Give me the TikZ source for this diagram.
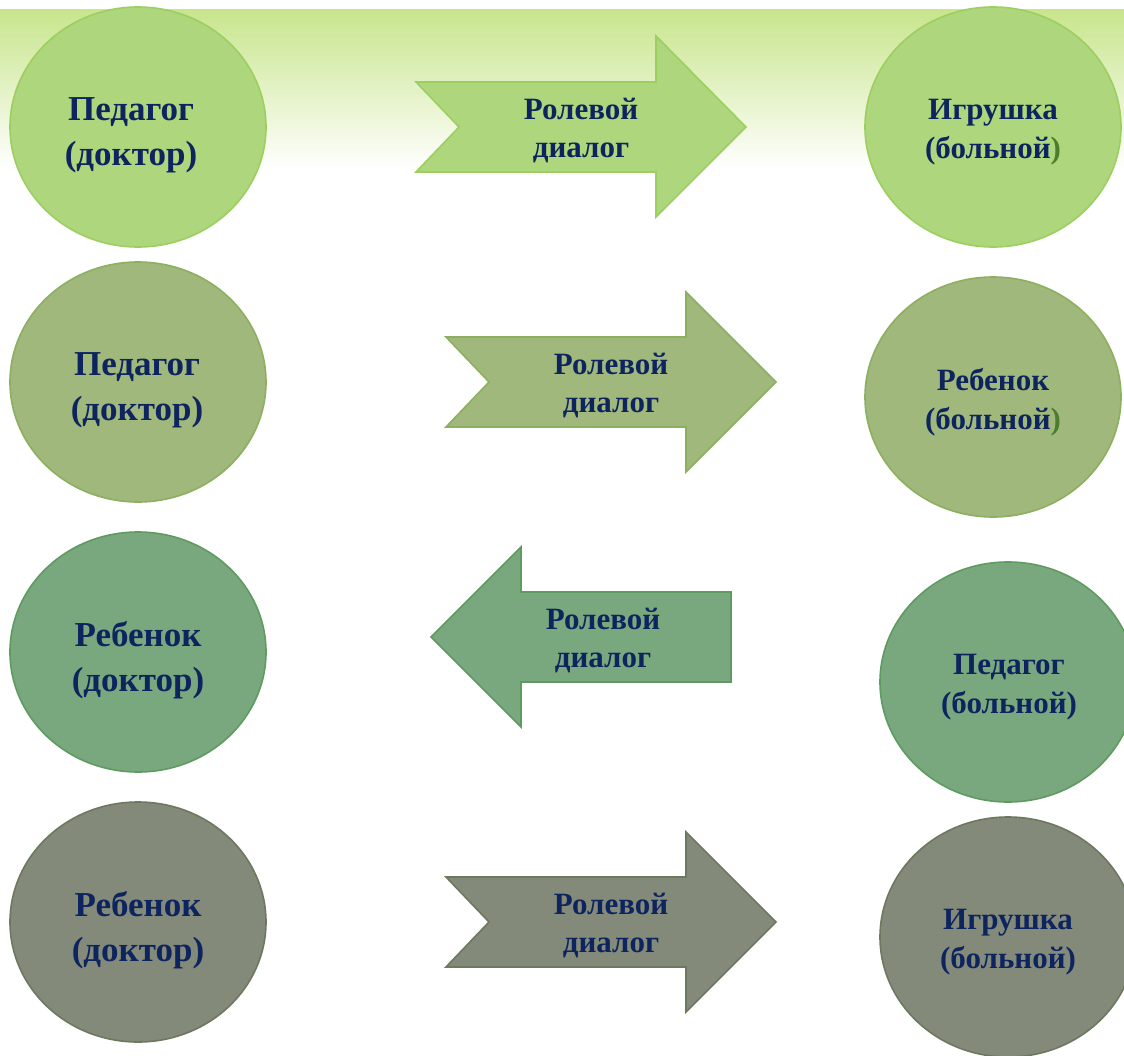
\documentclass[tikz,border=0pt]{standalone}
\usepackage{fontspec}
\setmainfont{Liberation Serif}
\usetikzlibrary{shapes.geometric}
\definecolor{txt}{HTML}{0E245E}
\definecolor{paren}{HTML}{4C7D2C}
\definecolor{fA}{HTML}{AED67C}\definecolor{bA}{HTML}{9CCF60}
\definecolor{fB}{HTML}{A0B87C}\definecolor{bB}{HTML}{8DAF60}
\definecolor{fC}{HTML}{7AA87E}\definecolor{bC}{HTML}{5E9B60}
\definecolor{fD}{HTML}{848A7A}\definecolor{bD}{HTML}{6C7860}
\definecolor{topg}{HTML}{C8E58C}
\tikzset{
  oval/.style={ellipse, minimum width=256pt, minimum height=240pt, inner sep=0pt, line width=1.6pt},
  lefttxt/.style={text=txt, align=center, font=\bfseries\fontsize{35}{45}\selectfont},
  righttxt/.style={text=txt, align=center, font=\bfseries\fontsize{31}{39}\selectfont},
  arrtxt/.style={text=txt, align=center, font=\bfseries\fontsize{31}{38}\selectfont},
  arrshape/.style={line width=1.6pt, line join=miter}
}
\begin{document}
\begin{tikzpicture}[x=1pt,y=-1pt]
\useasboundingbox (0,0) rectangle (1124,1055);
\clip (0,0) rectangle (1124,1055);
\fill[white] (0,0) rectangle (1124,1055);
\shade[top color=topg, bottom color=white] (0,9) rectangle (1124,170);

% row 1
\node[oval, draw=bA, fill=fA] (l1) at (138,127) {};
\node[oval, draw=bA, fill=fA] (r1) at (993,127) {};
\draw[arrshape, draw=bA, fill=fA] (416,82) -- (656,82) -- (656,36) -- (746,127) -- (656,217) -- (656,172) -- (416,172) -- (459,127) -- cycle;
\node[lefttxt] (tl1) at (131,135) {Педагог\\(доктор)};
\node[righttxt] (tr1) at (993,132) {Игрушка\\(больной\textcolor{paren}{)}};
\node[arrtxt] (ta1) at (581,131) {Ролевой\\диалог};

% row 2
\node[oval, draw=bB, fill=fB] (l2) at (138,382) {};
\node[oval, draw=bB, fill=fB] (r2) at (993,397) {};
\draw[arrshape, draw=bB, fill=fB] (446,337) -- (686,337) -- (686,292) -- (776,382) -- (686,472) -- (686,427) -- (446,427) -- (489,382) -- cycle;
\node[lefttxt] (tl2) at (137,390) {Педагог\\(доктор)};
\node[righttxt] (tr2) at (993,402) {Ребенок\\(больной\textcolor{paren}{)}};
\node[arrtxt] (ta2) at (611,386) {Ролевой\\диалог};

% row 3
\node[oval, draw=bC, fill=fC] (l3) at (138,652) {};
\node[oval, draw=bC, fill=fC] (r3) at (1008,682) {};
\draw[arrshape, draw=bC, fill=fC] (431,637) -- (521,547) -- (521,592) -- (731,592) -- (731,682) -- (521,682) -- (521,727) -- cycle;
\node[lefttxt] (tl3) at (138,660) {Ребенок\\(доктор)};
\node[righttxt] (tr3) at (1009,687) {Педагог\\(больной)};
\node[arrtxt] (ta3) at (603,641) {Ролевой\\диалог};

% row 4
\node[oval, draw=bD, fill=fD] (l4) at (138,922) {};
\node[oval, draw=bD, fill=fD] (r4) at (1008,937) {};
\draw[arrshape, draw=bD, fill=fD] (446,877) -- (686,877) -- (686,832) -- (776,922) -- (686,1012) -- (686,967) -- (446,967) -- (489,922) -- cycle;
\node[lefttxt] (tl4) at (138,930) {Ребенок\\(доктор)};
\node[righttxt] (tr4) at (1008,942) {Игрушка\\(больной)};
\node[arrtxt] (ta4) at (611,926) {Ролевой\\диалог};
\end{tikzpicture}
\end{document}
